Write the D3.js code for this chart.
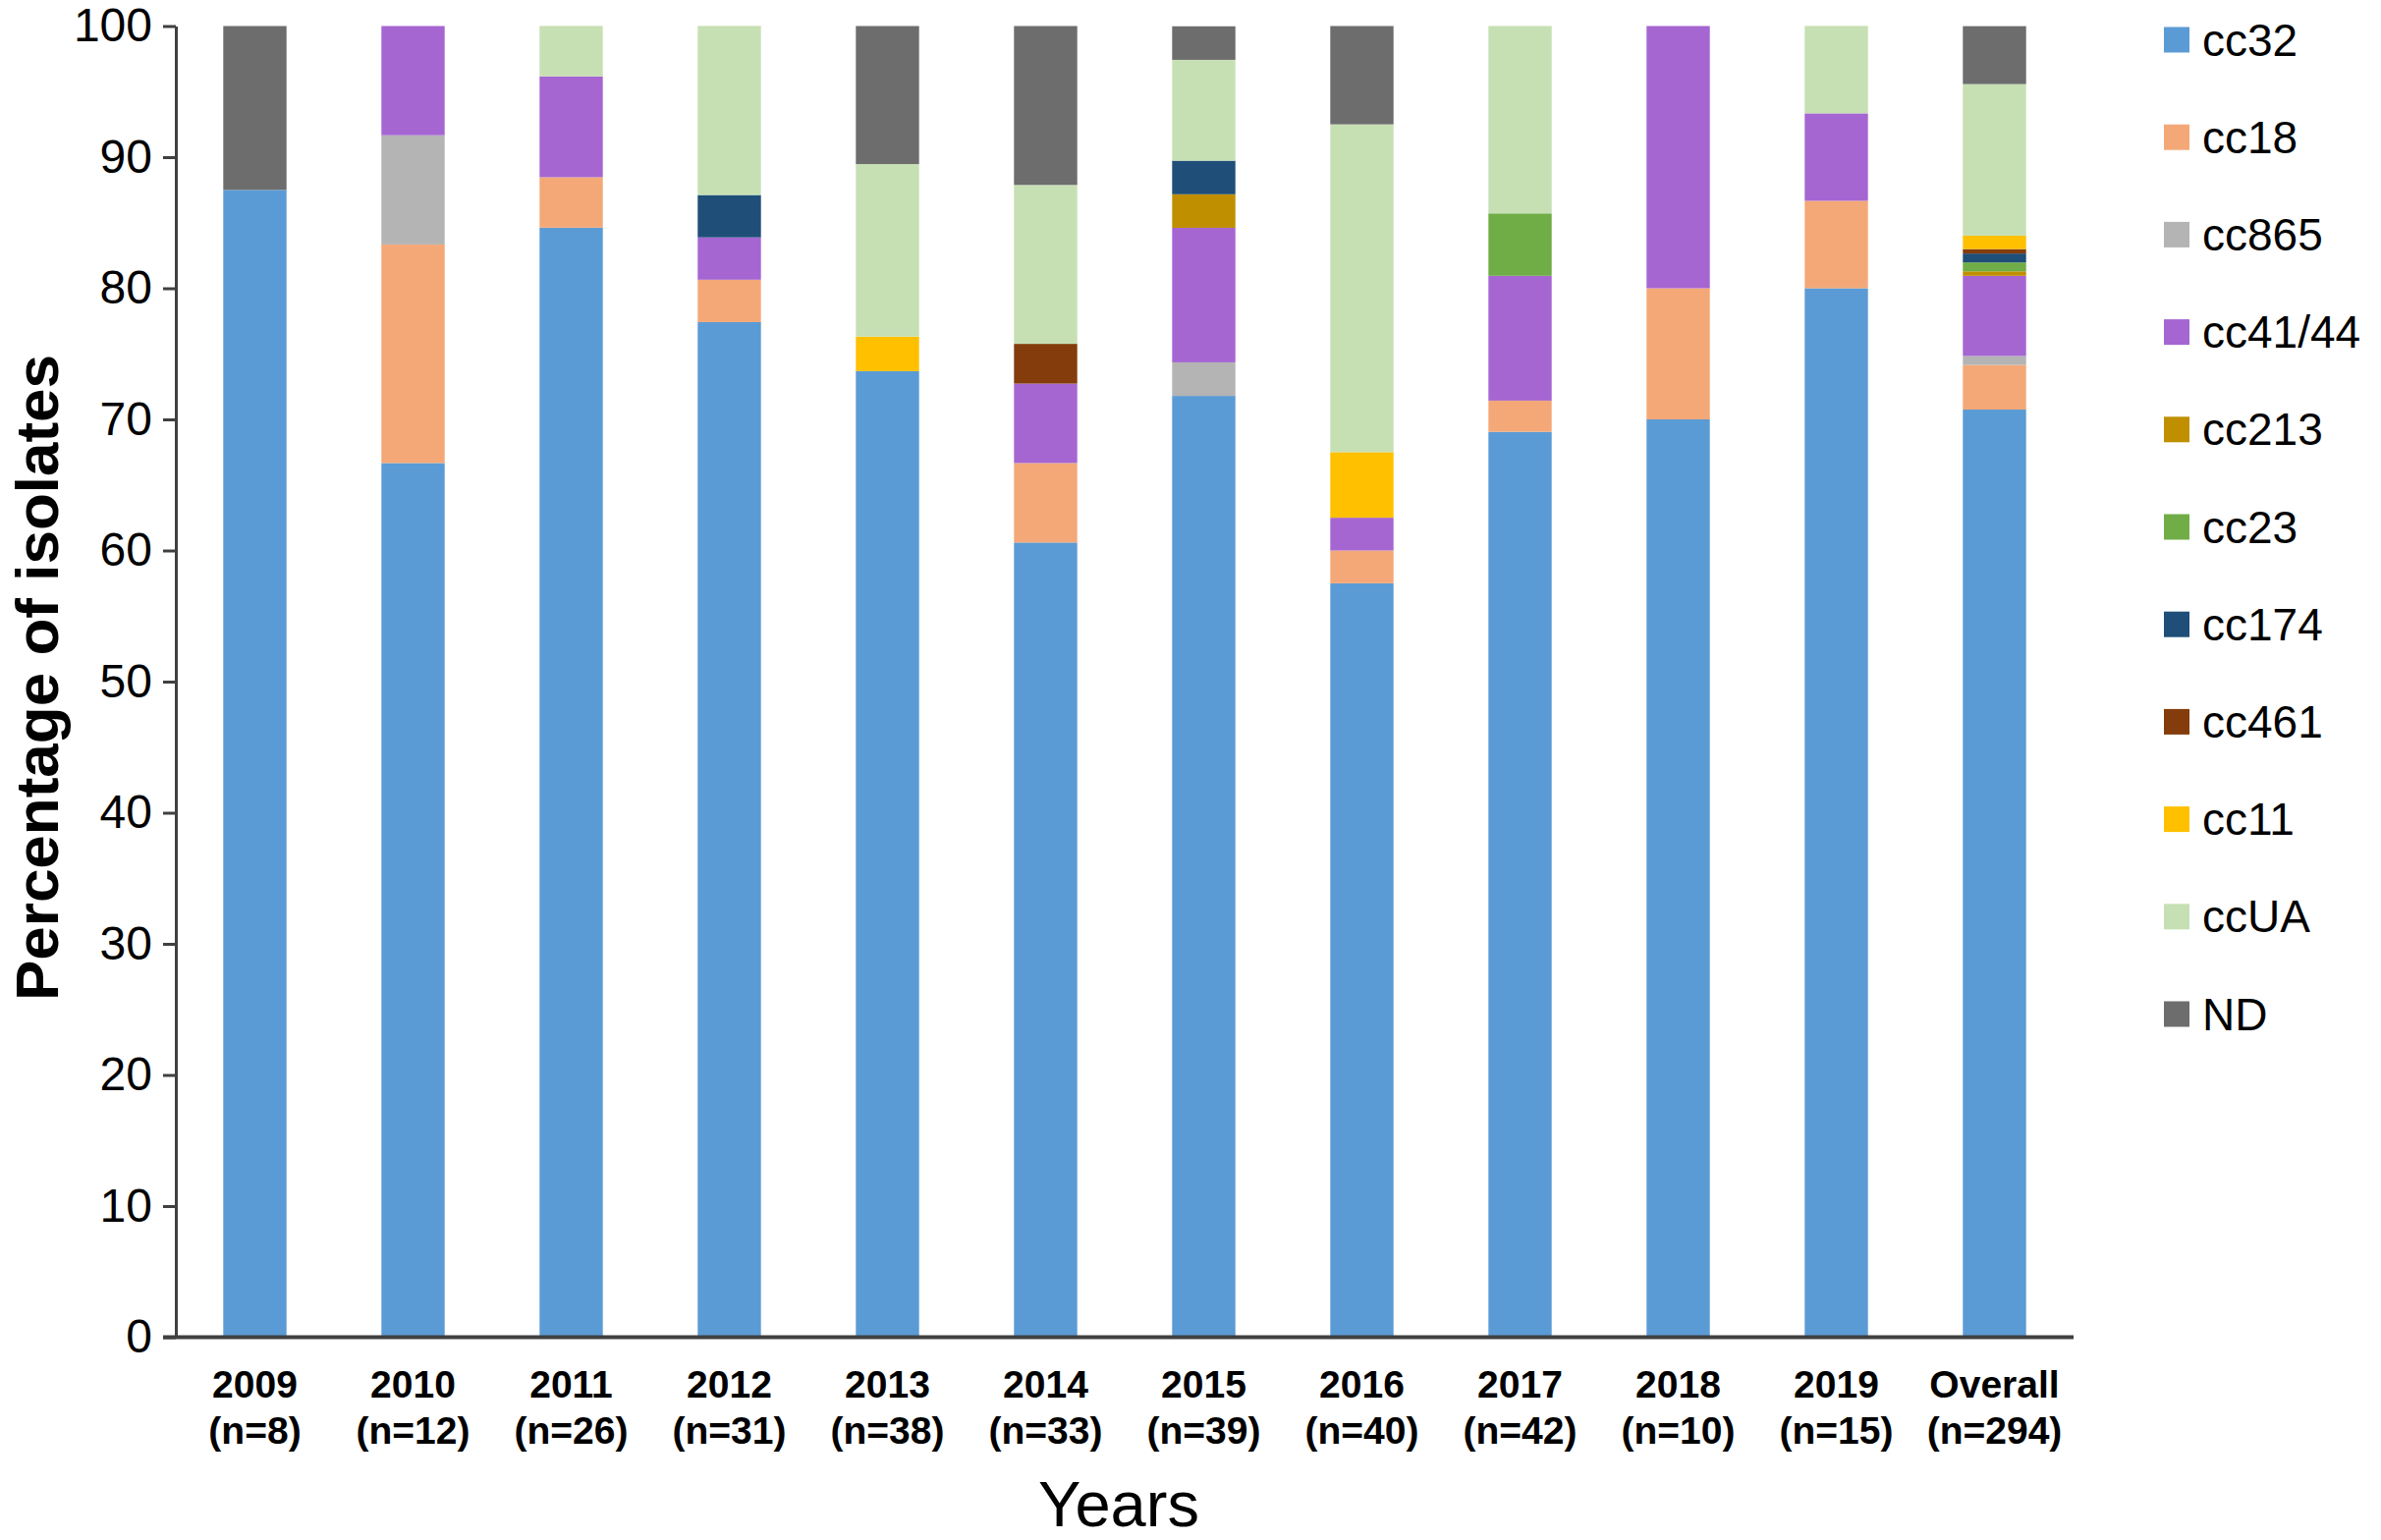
<!DOCTYPE html>
<html>
<head>
<meta charset="utf-8">
<script src="https://cdn.jsdelivr.net/npm/d3@7"></script>
<style>
  body { margin: 0; background: #fff; }
  text { font-family: "Liberation Sans", Arial, sans-serif; }
</style>
</head>
<body>
<div id="chart"></div>
<script>
const categories = ["2009", "2010", "2011", "2012", "2013", "2014", "2015", "2016", "2017", "2018", "2019", "Overall"];
const sampleSizes = ["(n=8)", "(n=12)", "(n=26)", "(n=31)", "(n=38)", "(n=33)", "(n=39)", "(n=40)", "(n=42)", "(n=10)", "(n=15)", "(n=294)"];

// percentage of isolates per clonal complex, bottom to top
const cc32   = [87.5, 66.67, 84.62, 77.42, 73.68, 60.61, 71.79, 57.5, 69.05, 70, 80, 70.75];
const cc18   = [0, 16.67, 3.85, 3.23, 0, 6.06, 0, 2.5, 2.38, 10, 6.67, 3.40];
const cc865  = [0, 8.33, 0, 0, 0, 0, 2.56, 0, 0, 0, 0, 0.68];
const cc4144 = [0, 8.33, 7.69, 3.23, 0, 6.06, 10.26, 2.5, 9.52, 20, 6.67, 6.12];
const cc213  = [0, 0, 0, 0, 0, 0, 2.56, 0, 0, 0, 0, 0.34];
const cc23   = [0, 0, 0, 0, 0, 0, 0, 0, 4.76, 0, 0, 0.68];
const cc174  = [0, 0, 0, 3.23, 0, 0, 2.56, 0, 0, 0, 0, 0.68];
const cc461  = [0, 0, 0, 0, 0, 3.03, 0, 0, 0, 0, 0, 0.34];
const cc11   = [0, 0, 0, 0, 2.63, 0, 0, 5, 0, 0, 0, 1.02];
const ccUA   = [0, 0, 3.85, 12.90, 13.16, 12.12, 7.69, 25, 14.29, 0, 6.67, 11.56];
const ND     = [12.5, 0, 0, 0, 10.53, 12.12, 2.56, 7.5, 0, 0, 0, 4.42];

const seriesNames = ["cc32", "cc18", "cc865", "cc41/44", "cc213", "cc23", "cc174", "cc461", "cc11", "ccUA", "ND"];
const seriesValues = [cc32, cc18, cc865, cc4144, cc213, cc23, cc174, cc461, cc11, ccUA, ND];
const seriesColors = ["#5b9bd5", "#f4a877", "#b4b4b4", "#a566d2", "#bf8f00", "#70ad47", "#1f4e79", "#843c0c", "#ffc000", "#c6e0b4", "#6d6d6d"];
const yTicks = [0, 10, 20, 30, 40, 50, 60, 70, 80, 90, 100];

const width = 2424, height = 1568;
const plot = { left: 179, right: 2111, top: 26.5, bottom: 1361.5 };

const rows = categories.map((c, i) => {
  const r = { cat: c };
  seriesNames.forEach((s, j) => { r[s] = seriesValues[j][i]; });
  return r;
});

const stacked = d3.stack().keys(seriesNames)(rows);

const xScale = d3.scaleBand()
  .domain(categories)
  .range([plot.left, plot.right])
  .paddingInner(0.6)
  .paddingOuter(0.3);

const yScale = d3.scaleLinear()
  .domain([0, 100])
  .range([plot.bottom, plot.top]);

const color = d3.scaleOrdinal().domain(seriesNames).range(seriesColors);

const svg = d3.select("#chart")
  .append("svg")
  .attr("width", width)
  .attr("height", height)
  .style("background-color", "#fff");

// bars
svg.append("g")
  .selectAll("g")
  .data(stacked)
  .enter()
  .append("g")
  .attr("fill", d => color(d.key))
  .selectAll("rect")
  .data(d => d.filter(p => p[1] - p[0] > 0))
  .enter()
  .append("rect")
  .attr("x", d => xScale(d.data.cat))
  .attr("width", xScale.bandwidth())
  .attr("y", d => yScale(d[1]))
  .attr("height", d => yScale(d[0]) - yScale(d[1]));

// y axis
const yAxis = d3.axisLeft(yScale)
  .tickValues(yTicks)
  .tickSize(13)
  .tickSizeOuter(0)
  .tickPadding(11);

const gy = svg.append("g")
  .attr("transform", `translate(${plot.left}, 0)`)
  .call(yAxis);

gy.select(".domain").attr("stroke", "#404040").attr("stroke-width", 3);
gy.selectAll(".tick line").attr("stroke", "#404040").attr("stroke-width", 3);
gy.selectAll(".tick text")
  .attr("fill", "#000")
  .attr("font-size", "48px")
  .attr("font-family", "'Liberation Sans', Arial, sans-serif");

// x axis
const xAxis = d3.axisBottom(xScale).tickSize(0).tickFormat("");

const gx = svg.append("g")
  .attr("transform", `translate(0, ${plot.bottom})`)
  .call(xAxis);

gx.select(".domain").remove();
gx.append("line")
  .attr("x1", plot.left - 13)
  .attr("x2", plot.right)
  .attr("y1", 0)
  .attr("y2", 0)
  .attr("stroke", "#404040")
  .attr("stroke-width", 4);

const xLabels = svg.append("g")
  .selectAll("text")
  .data(categories)
  .enter()
  .append("text")
  .attr("text-anchor", "middle")
  .attr("font-weight", "bold")
  .attr("font-size", "39px")
  .attr("fill", "#000");

xLabels.append("tspan")
  .attr("x", d => xScale(d) + xScale.bandwidth() / 2)
  .attr("y", 1423)
  .text(d => d);

xLabels.append("tspan")
  .attr("x", d => xScale(d) + xScale.bandwidth() / 2)
  .attr("y", 1470)
  .text((d, i) => sampleSizes[i]);

// axis titles
svg.append("text")
  .attr("x", 1139)
  .attr("y", 1554)
  .attr("text-anchor", "middle")
  .attr("font-size", "65px")
  .attr("fill", "#000")
  .text("Years");

svg.append("text")
  .attr("transform", "translate(59, 690) rotate(-90)")
  .attr("text-anchor", "middle")
  .attr("font-weight", "bold")
  .attr("font-size", "62px")
  .attr("fill", "#000")
  .text("Percentage of isolates");

// legend
const legend = svg.append("g")
  .selectAll("g")
  .data(seriesNames)
  .enter()
  .append("g")
  .attr("transform", (d, i) => `translate(2203, ${40.5 + i * 99.2})`);

legend.append("rect")
  .attr("x", 0)
  .attr("y", -13)
  .attr("width", 26)
  .attr("height", 26)
  .attr("fill", d => color(d));

legend.append("text")
  .attr("x", 39)
  .attr("y", 16)
  .attr("font-size", "46px")
  .attr("fill", "#000")
  .text(d => d);
</script>
</body>
</html>
